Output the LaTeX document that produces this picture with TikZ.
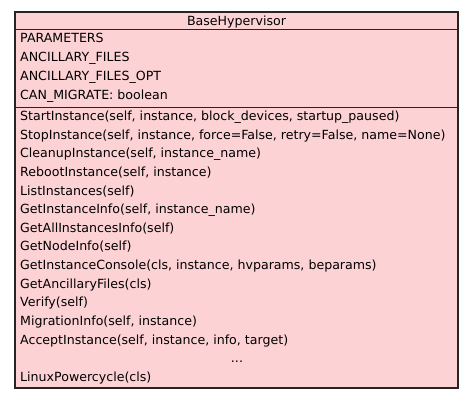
\documentclass[tikz,border=0pt]{standalone}
\usepackage{fontspec}
\setmainfont{DejaVu Sans}
\definecolor{classfill}{RGB}{253,210,213}
\definecolor{classline}{RGB}{40,36,36}
\begin{document}
\begin{tikzpicture}[x=1pt,y=-1pt,
  member/.style={anchor=base west,inner sep=0pt,font=\fontsize{12.6}{14}\selectfont},
  title/.style={anchor=base,inner sep=0pt,font=\fontsize{12.6}{14}\selectfont},
  box/.style={draw=classline,line width=1.3pt,fill=classfill},
  sep/.style={draw=classline,line width=1pt}]
\useasboundingbox (0,0) rectangle (475,400);
\path[box] (15,12) rectangle (458,388);
\coordinate (l1) at (15,29); \coordinate (r1) at (458,29);
\coordinate (l2) at (15,107); \coordinate (r2) at (458,107);
\draw[sep] (l1) -- (r1);
\draw[sep] (l2) -- (r2);
\node[title] (t) at (236.5,25) {BaseHypervisor};
\node[member] (a1) at (20,42.5) {PARAMETERS};
\node[member] (a2) at (20,61.5) {ANCILLARY\_FILES};
\node[member] (a3) at (20,80.5) {ANCILLARY\_FILES\_OPT};
\node[member] (a4) at (20,99.5) {CAN\_MIGRATE: boolean};
\node[member] (m1) at (20,120.5) {StartInstance(self, instance, block\_devices, startup\_paused)};
\node[member] (m2) at (20,139.14) {StopInstance(self, instance, force=False, retry=False, name=None)};
\node[member] (m3) at (20,157.78) {CleanupInstance(self, instance\_name)};
\node[member] (m4) at (20,176.42) {RebootInstance(self, instance)};
\node[member] (m5) at (20,195.06) {ListInstances(self)};
\node[member] (m6) at (20,213.7) {GetInstanceInfo(self, instance\_name)};
\node[member] (m7) at (20,232.34) {GetAllInstancesInfo(self)};
\node[member] (m8) at (20,250.98) {GetNodeInfo(self)};
\node[member] (m9) at (20,269.62) {GetInstanceConsole(cls, instance, hvparams, beparams)};
\node[member] (m10) at (20,288.26) {GetAncillaryFiles(cls)};
\node[member] (m11) at (20,306.9) {Verify(self)};
\node[member] (m12) at (20,325.54) {MigrationInfo(self, instance)};
\node[member] (m13) at (20,344.18) {AcceptInstance(self, instance, info, target)};
\node[title] (dots) at (237,362.82) {...};
\node[member] (m15) at (20,381.5) {LinuxPowercycle(cls)};
\end{tikzpicture}
\end{document}
